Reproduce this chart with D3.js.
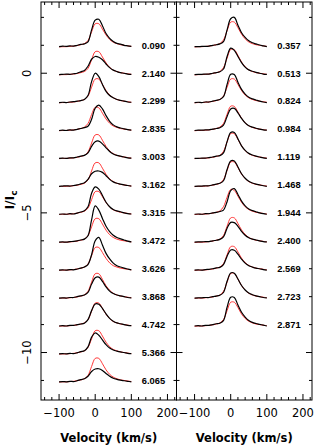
<!DOCTYPE html>
<html><head><meta charset="utf-8">
<script src="https://cdn.jsdelivr.net/npm/d3@7"></script>
<style>body{margin:0;background:#fff}svg{display:block}</style>
</head><body>
<svg id="c" width="314" height="447"></svg>
<script>
// ---------- data ----------
const velocity = [-100,-90,-80,-70,-60,-50,-40,-30,-20,-10,0,10,20,30,40,50,60,70,80,90,100];
const xTicksMajor = [-100, 0, 100, 200];
const yTicksMajor = [0, -5, -10];
const leftPhases  = ["0.090","2.140","2.299","2.835","3.003","3.162","3.315","3.472","3.626","3.868","4.742","5.366","6.065"];
const rightPhases = ["0.357","0.513","0.824","0.984","1.119","1.468","1.944","2.400","2.569","2.723","2.871"];
const leftOffsets  = [1,0,-1,-2,-3,-4,-5,-6,-7,-8,-9,-10,-11];
const rightOffsets = [1,0,-1,-2,-3,-4,-5,-6,-7,-8,-9];

const leftObserved = [
 [-0.05,-0.03,-0.04,-0.02,-0.03,0.00,0.03,0.05,0.12,0.55,0.90,0.93,0.70,0.42,0.25,0.14,0.07,0.04,0.00,-0.02,-0.04],
 [-0.05,-0.04,-0.03,-0.04,-0.02,0.00,0.05,0.10,0.25,0.50,0.60,0.57,0.48,0.33,0.20,0.11,0.06,0.02,0.00,-0.03,-0.04],
 [-0.05,-0.04,-0.05,-0.03,-0.02,0.00,0.02,0.06,0.20,0.70,1.00,0.88,0.60,0.35,0.20,0.12,0.06,0.03,0.00,-0.03,-0.04],
 [-0.05,-0.04,-0.05,-0.03,-0.04,-0.01,0.02,0.05,0.10,0.35,0.75,0.86,0.72,0.48,0.28,0.15,0.08,0.04,0.01,-0.02,-0.04],
 [-0.05,-0.04,-0.05,-0.03,-0.03,0.00,0.03,0.06,0.15,0.38,0.55,0.57,0.47,0.33,0.20,0.11,0.06,0.03,0.00,-0.03,-0.04],
 [-0.05,-0.04,-0.03,-0.04,-0.02,0.00,0.04,0.08,0.20,0.40,0.49,0.50,0.45,0.33,0.20,0.11,0.06,0.03,0.00,-0.02,-0.04],
 [-0.05,-0.04,-0.05,-0.03,-0.04,-0.01,0.03,0.08,0.22,0.70,0.93,0.85,0.62,0.38,0.22,0.12,0.07,0.04,0.00,-0.03,-0.04],
 [-0.05,-0.04,-0.05,-0.03,-0.02,0.00,0.03,0.06,0.18,0.75,1.25,1.10,0.80,0.52,0.33,0.20,0.12,0.07,0.03,-0.01,-0.04],
 [-0.05,-0.04,-0.05,-0.03,-0.04,-0.01,0.02,0.06,0.15,0.50,1.00,1.12,0.85,0.55,0.35,0.20,0.11,0.06,0.02,-0.01,-0.04],
 [-0.05,-0.04,-0.05,-0.03,-0.03,0.00,0.03,0.06,0.15,0.45,0.68,0.70,0.55,0.35,0.20,0.11,0.06,0.03,0.00,-0.03,-0.04],
 [-0.05,-0.04,-0.05,-0.03,-0.03,0.00,0.02,0.05,0.18,0.50,0.74,0.73,0.58,0.38,0.22,0.12,0.06,0.03,0.00,-0.03,-0.04],
 [-0.05,-0.04,-0.05,-0.03,-0.04,-0.01,0.03,0.06,0.20,0.55,0.70,0.62,0.45,0.28,0.16,0.09,0.05,0.02,0.00,-0.03,-0.04],
 [-0.05,-0.04,-0.05,-0.03,-0.04,-0.01,0.03,0.06,0.15,0.32,0.41,0.42,0.36,0.25,0.15,0.08,0.04,0.01,-0.01,-0.03,-0.05]
];
const leftModel = [
 [-0.06,-0.05,-0.05,-0.04,-0.03,-0.01,0.02,0.06,0.17,0.48,0.77,0.77,0.58,0.37,0.21,0.11,0.06,0.02,0.00,-0.02,-0.04],
 [-0.06,-0.05,-0.05,-0.04,-0.03,-0.01,0.02,0.06,0.17,0.48,0.77,0.77,0.58,0.37,0.21,0.11,0.06,0.02,0.00,-0.02,-0.04],
 [-0.06,-0.05,-0.05,-0.04,-0.03,-0.01,0.02,0.06,0.18,0.50,0.79,0.79,0.60,0.38,0.22,0.12,0.06,0.02,0.00,-0.02,-0.04],
 [-0.06,-0.05,-0.05,-0.04,-0.03,-0.01,0.02,0.07,0.20,0.52,0.78,0.76,0.57,0.36,0.21,0.11,0.06,0.02,0.00,-0.02,-0.04],
 [-0.06,-0.05,-0.05,-0.04,-0.03,-0.01,0.02,0.06,0.18,0.50,0.79,0.79,0.60,0.38,0.22,0.12,0.06,0.02,0.00,-0.02,-0.04],
 [-0.06,-0.05,-0.05,-0.04,-0.03,-0.01,0.02,0.06,0.18,0.50,0.79,0.79,0.60,0.38,0.22,0.12,0.06,0.02,0.00,-0.02,-0.04],
 [-0.06,-0.05,-0.05,-0.04,-0.03,-0.01,0.02,0.06,0.17,0.47,0.76,0.76,0.58,0.37,0.21,0.11,0.06,0.02,0.00,-0.02,-0.04],
 [-0.06,-0.05,-0.05,-0.04,-0.03,-0.01,0.02,0.06,0.18,0.50,0.79,0.79,0.60,0.38,0.22,0.12,0.06,0.02,0.00,-0.02,-0.04],
 [-0.06,-0.05,-0.05,-0.04,-0.03,-0.01,0.02,0.06,0.17,0.47,0.76,0.76,0.58,0.37,0.21,0.11,0.06,0.02,0.00,-0.02,-0.04],
 [-0.06,-0.05,-0.05,-0.04,-0.03,-0.01,0.02,0.06,0.19,0.52,0.82,0.82,0.62,0.39,0.23,0.12,0.06,0.02,0.00,-0.02,-0.04],
 [-0.06,-0.05,-0.05,-0.04,-0.03,-0.01,0.02,0.06,0.17,0.48,0.77,0.77,0.58,0.37,0.21,0.11,0.06,0.02,0.00,-0.02,-0.04],
 [-0.06,-0.05,-0.05,-0.04,-0.03,-0.01,0.02,0.06,0.18,0.49,0.78,0.78,0.59,0.37,0.21,0.11,0.06,0.02,0.00,-0.02,-0.04],
 [-0.06,-0.05,-0.05,-0.04,-0.03,-0.01,0.02,0.06,0.18,0.50,0.79,0.79,0.60,0.38,0.22,0.12,0.06,0.02,0.00,-0.02,-0.04]
];
const rightObserved = [
 [-0.05,-0.05,-0.04,-0.04,-0.03,0.00,0.02,0.05,0.13,0.55,0.95,1.00,0.72,0.45,0.28,0.16,0.09,0.05,0.01,-0.02,-0.05],
 [-0.05,-0.04,-0.04,-0.03,-0.03,0.00,0.02,0.05,0.15,0.60,0.90,0.82,0.60,0.38,0.22,0.12,0.07,0.03,0.00,-0.03,-0.04],
 [-0.05,-0.04,-0.05,-0.03,-0.03,0.00,0.03,0.06,0.16,0.60,0.96,0.95,0.68,0.42,0.25,0.14,0.08,0.04,0.00,-0.03,-0.05],
 [-0.05,-0.04,-0.04,-0.03,-0.03,0.00,0.02,0.05,0.14,0.45,0.72,0.74,0.58,0.38,0.22,0.12,0.07,0.03,0.00,-0.03,-0.04],
 [-0.05,-0.05,-0.04,-0.04,-0.02,0.00,0.03,0.05,0.15,0.55,0.88,0.88,0.65,0.40,0.24,0.13,0.07,0.03,0.00,-0.03,-0.05],
 [-0.05,-0.04,-0.04,-0.03,-0.03,0.00,0.03,0.06,0.15,0.55,0.86,0.86,0.64,0.40,0.24,0.13,0.07,0.03,0.00,-0.03,-0.05],
 [-0.05,-0.04,-0.05,-0.03,-0.03,0.00,0.02,0.05,0.10,0.40,0.80,0.87,0.66,0.42,0.25,0.14,0.08,0.04,0.00,-0.03,-0.05],
 [-0.05,-0.04,-0.04,-0.03,-0.03,0.00,0.02,0.05,0.14,0.45,0.66,0.65,0.52,0.34,0.20,0.11,0.06,0.03,0.00,-0.03,-0.04],
 [-0.05,-0.04,-0.05,-0.03,-0.02,0.00,0.03,0.05,0.15,0.45,0.67,0.66,0.52,0.34,0.20,0.11,0.06,0.02,0.00,-0.03,-0.05],
 [-0.05,-0.04,-0.04,-0.03,-0.03,0.00,0.02,0.05,0.15,0.55,0.85,0.84,0.63,0.40,0.24,0.13,0.07,0.03,0.00,-0.03,-0.04],
 [-0.05,-0.04,-0.05,-0.03,-0.03,0.00,0.03,0.05,0.14,0.62,0.98,0.97,0.70,0.44,0.27,0.15,0.08,0.04,0.01,-0.02,-0.05]
];
const rightModel = [
 [-0.06,-0.05,-0.05,-0.04,-0.03,-0.01,0.02,0.06,0.19,0.52,0.83,0.83,0.63,0.40,0.23,0.12,0.06,0.02,0.00,-0.02,-0.04],
 [-0.06,-0.05,-0.05,-0.04,-0.03,-0.01,0.02,0.06,0.20,0.54,0.85,0.84,0.64,0.40,0.23,0.12,0.06,0.02,0.00,-0.02,-0.04],
 [-0.06,-0.05,-0.05,-0.04,-0.03,-0.01,0.02,0.06,0.18,0.50,0.79,0.79,0.60,0.38,0.22,0.12,0.06,0.02,0.00,-0.02,-0.04],
 [-0.06,-0.05,-0.05,-0.04,-0.03,-0.01,0.02,0.07,0.20,0.53,0.82,0.81,0.61,0.39,0.22,0.12,0.06,0.02,0.00,-0.02,-0.04],
 [-0.06,-0.05,-0.05,-0.04,-0.03,-0.01,0.02,0.06,0.20,0.54,0.84,0.83,0.63,0.40,0.23,0.12,0.06,0.02,0.00,-0.02,-0.04],
 [-0.06,-0.05,-0.05,-0.04,-0.03,-0.01,0.02,0.06,0.19,0.52,0.82,0.82,0.62,0.39,0.23,0.12,0.06,0.02,0.00,-0.02,-0.04],
 [-0.06,-0.05,-0.05,-0.04,-0.03,-0.01,0.02,0.07,0.22,0.56,0.84,0.80,0.60,0.38,0.22,0.12,0.06,0.02,0.00,-0.02,-0.04],
 [-0.06,-0.05,-0.05,-0.04,-0.03,-0.01,0.02,0.06,0.19,0.52,0.82,0.82,0.62,0.39,0.23,0.12,0.06,0.02,0.00,-0.02,-0.04],
 [-0.06,-0.05,-0.05,-0.04,-0.03,-0.01,0.02,0.06,0.18,0.50,0.79,0.79,0.60,0.38,0.22,0.12,0.06,0.02,0.00,-0.02,-0.04],
 [-0.06,-0.05,-0.05,-0.04,-0.03,-0.01,0.02,0.06,0.19,0.52,0.83,0.83,0.63,0.40,0.23,0.12,0.06,0.02,0.00,-0.02,-0.04],
 [-0.06,-0.05,-0.05,-0.04,-0.03,-0.01,0.02,0.06,0.18,0.50,0.80,0.80,0.61,0.38,0.22,0.12,0.06,0.02,0.00,-0.02,-0.04]
];

// ---------- layout ----------
const xDomain = [-150, 225];
const yDomain = [-11.7, 2.55];
const plotTop = 2, plotBottom = 400;
const labelVel = 129;
const svg = d3.select('#c');
const y = d3.scaleLinear().domain(yDomain).range([plotBottom, plotTop]);
const fmt = t => (t < 0 ? '\u2212' + Math.abs(t) : String(t));

const panels = [
  {x0: 41, x1: 176.5, phases: leftPhases, offsets: leftOffsets, obs: leftObserved, mod: leftModel, yLabels: true},
  {x0: 176.5, x1: 312, phases: rightPhases, offsets: rightOffsets, obs: rightObserved, mod: rightModel, yLabels: false}
];

panels.forEach(p => {
  const x = d3.scaleLinear().domain(xDomain).range([p.x0, p.x1]);
  const g = svg.append('g');
  const line = d3.line().x((d, i) => x(velocity[i])).y(d => y(d)).curve(d3.curveCatmullRom.alpha(0.5));

  p.mod.forEach((arr, k) => {
    g.append('path').attr('d', line(arr.map(v => v + p.offsets[k])))
      .attr('fill', 'none').attr('stroke', '#ff2020').attr('stroke-width', 0.9);
  });
  p.obs.forEach((arr, k) => {
    g.append('path').attr('d', line(arr.map(v => v + p.offsets[k])))
      .attr('fill', 'none').attr('stroke', '#000').attr('stroke-width', 1.2);
  });
  p.phases.forEach((lab, k) => {
    g.append('text').attr('x', x(labelVel)).attr('y', y(p.offsets[k]) + 3.3)
      .attr('font-family', 'Liberation Sans, Arial, sans-serif').attr('font-size', 9.3)
      .attr('font-weight', 'bold').attr('fill', '#000').text(lab);
  });

  // x ticks
  const minor = d3.range(-140, 221, 20);
  minor.forEach(t => {
    const len = xTicksMajor.includes(t) ? 6 : 3;
    const xx = x(t);
    g.append('line').attr('x1', xx).attr('x2', xx).attr('y1', plotTop).attr('y2', plotTop + len).attr('stroke', '#000').attr('stroke-width', 1);
    g.append('line').attr('x1', xx).attr('x2', xx).attr('y1', plotBottom).attr('y2', plotBottom - len).attr('stroke', '#000').attr('stroke-width', 1);
  });
  xTicksMajor.forEach(t => {
    g.append('text').attr('x', x(t)).attr('y', 417).attr('text-anchor', 'middle')
      .attr('font-family', 'DejaVu Sans, sans-serif').attr('font-size', 11.5).attr('fill', '#000').text(fmt(t));
  });
  // y ticks
  d3.range(-11, 3).forEach(t => {
    const len = yTicksMajor.includes(t) ? 6 : 3;
    const yy = y(t);
    g.append('line').attr('x1', p.x0).attr('x2', p.x0 + len).attr('y1', yy).attr('y2', yy).attr('stroke', '#000');
    g.append('line').attr('x1', p.x1).attr('x2', p.x1 - len).attr('y1', yy).attr('y2', yy).attr('stroke', '#000');
  });
  if (p.yLabels) {
    yTicksMajor.forEach(t => {
      g.append('text').attr('transform', `translate(30.5,${y(t)}) rotate(-90)`).attr('text-anchor', 'middle')
        .attr('font-family', 'DejaVu Sans, sans-serif').attr('font-size', 11.5).attr('fill', '#000').text(fmt(t));
    });
  }
  // frame
  g.append('rect').attr('x', p.x0).attr('y', plotTop).attr('width', p.x1 - p.x0).attr('height', plotBottom - plotTop)
    .attr('fill', 'none').attr('stroke', '#000').attr('stroke-width', 1);
  // x title
  g.append('text').attr('x', (p.x0 + p.x1) / 2).attr('y', 442).attr('text-anchor', 'middle')
    .attr('font-family', 'DejaVu Sans, sans-serif').attr('font-weight', 'bold').attr('font-size', 11.5)
    .attr('fill', '#000').text('Velocity (km/s)');
});

// y title
const yt = svg.append('text').attr('transform', 'translate(14,200) rotate(-90)').attr('text-anchor', 'middle')
  .attr('font-family', 'DejaVu Sans, sans-serif').attr('font-weight', 'bold').attr('font-size', 12.5).attr('fill', '#000');
yt.append('tspan').text('I/I');
yt.append('tspan').attr('dy', 3).attr('font-size', 9).text('c');
</script>
</body></html>
